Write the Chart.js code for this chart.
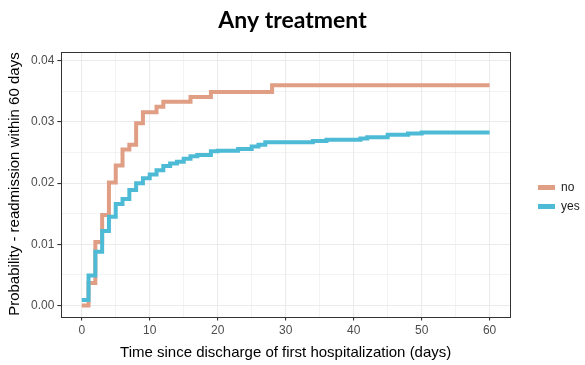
<!DOCTYPE html>
<html>
<head>
<meta charset="utf-8">
<script src="https://cdn.jsdelivr.net/npm/chart.js@4"></script>
<style>
  html, body { margin: 0; padding: 0; background: #fff; }
  #wrap { width: 585px; height: 365px; }
</style>
</head>
<body>
<div id="wrap"><canvas id="kmChart"></canvas></div>
<script>
// ========== data ==========
const seriesNames = ['no', 'yes'];

// "no" step curve: day of jump, cumulative probability after the jump
const noDays = [0, 1, 2, 3, 4, 5, 6, 7, 8, 9, 11, 12, 16, 19, 28, 60];
const noProb = [0, 0.0037, 0.0104, 0.0148, 0.0201, 0.0229, 0.0255, 0.0263, 0.0298, 0.0316,
                0.0325, 0.0333, 0.0341, 0.0349, 0.0360, 0.0360];

// "yes" step curve
const yesDays = [0, 1, 2, 3, 4, 5, 6, 7, 8, 9, 10, 11, 12, 13, 14, 15, 16, 17, 19, 20,
                 23, 25, 26, 27, 34, 36, 41, 42, 45, 48, 50, 60];
const yesProb = [0.0009, 0.0049, 0.0088, 0.0122, 0.0145, 0.0166, 0.0174, 0.0189, 0.0200, 0.0208,
                 0.0214, 0.0221, 0.0228, 0.0232, 0.0235, 0.0240, 0.0244, 0.0246, 0.0252, 0.0253,
                 0.0256, 0.0260, 0.0263, 0.0267, 0.0269, 0.0271, 0.0273, 0.0275, 0.0279, 0.0281,
                 0.0283, 0.0283];

const xTicks = [0, 5, 10, 15, 20, 25, 30, 35, 40, 45, 50, 55, 60];
const yTicks = [0, 0.005, 0.01, 0.015, 0.02, 0.025, 0.03, 0.035, 0.04];

const colors = ['#E09F85', '#4DBBD5'];

function toPoints(xs, ys) {
    return xs.map((x, i) => ({ x: x, y: ys[i] }));
}

// 패널 테두리 (theme_bw)
const panelBorder = {
    id: 'panelBorder',
    afterDraw(chart) {
        const a = chart.chartArea;
        const ctx = chart.ctx;
        ctx.save();
        ctx.strokeStyle = '#333333';
        ctx.lineWidth = 1;
        ctx.strokeRect(Math.round(a.left) + 0.5, Math.round(a.top) + 0.5,
                       Math.round(a.right - a.left), Math.round(a.bottom - a.top));
        ctx.restore();
    }
};

// 범례 폭 고정 + 오른쪽으로 이동 (ggplot 범례 위치)
const legendPlace = {
    id: 'legendPlace',
    beforeLayout(chart) {
        const lg = chart.legend;
        if (lg && !lg._patched) {
            const fit = lg.fit;
            lg.fit = function () {
                fit.call(this);
                this.width = 75;
            };
            lg._patched = true;
        }
    },
    afterLayout(chart) {
        const lg = chart.legend;
        lg.left += 21;
        lg.right += 21;
        lg.top += 14;
        lg.bottom += 14;
    }
};

const isMajorX = v => v % 10 === 0;
const isMajorY = v => Math.abs(Math.round(v * 100) - v * 100) < 1e-6;

const ctx = document.getElementById('kmChart').getContext('2d');
const chart = new Chart(ctx, {
    type: 'line',
    data: {
        datasets: [
            {
                label: seriesNames[0],
                data: toPoints(noDays, noProb),
                borderColor: colors[0],
                backgroundColor: colors[0],
                borderWidth: 4,
                stepped: 'before',
                pointRadius: 0,
                order: 1
            },
            {
                label: seriesNames[1],
                data: toPoints(yesDays, yesProb),
                borderColor: colors[1],
                backgroundColor: colors[1],
                borderWidth: 4,
                stepped: 'before',
                pointRadius: 0,
                order: 0
            }
        ]
    },
    options: {
        responsive: true,
        maintainAspectRatio: false,
        animation: false,
        layout: { padding: { left: 0, right: 0, top: 4, bottom: 3 } },
        plugins: {
            title: {
                display: true,
                text: 'Any treatment',
                color: '#000',
                font: { family: 'Lato', size: 23, weight: 'bold' },
                padding: { top: 3, bottom: 17 }
            },
            legend: {
                position: 'right',
                align: 'center',
                labels: {
                    boxWidth: 17,
                    boxHeight: 5,
                    color: '#1a1a1a',
                    padding: 7,
                    font: { family: 'Liberation Sans', size: 12 },
                    sort: (a, b) => a.datasetIndex - b.datasetIndex,
                    generateLabels: c => Chart.defaults.plugins.legend.labels.generateLabels(c)
                        .map(l => Object.assign(l, { lineWidth: 0 }))
                }
            },
            tooltip: { enabled: false }
        },
        scales: {
            x: {
                type: 'linear',
                min: -3,
                max: 63,
                afterBuildTicks: axis => { axis.ticks = xTicks.map(v => ({ value: v })); },
                ticks: {
                    autoSkip: false,
                    maxRotation: 0,
                    color: '#4d4d4d',
                    font: { family: 'Liberation Sans', size: 12 },
                    padding: 3,
                    callback: v => isMajorX(v) ? String(v) : ''
                },
                grid: {
                    color: '#ebebeb',
                    lineWidth: c => isMajorX(c.tick.value) ? 1.1 : 0.6,
                    tickColor: c => isMajorX(c.tick.value) ? '#333333' : 'rgba(0,0,0,0)',
                    tickLength: 4
                },
                border: { display: false },
                title: {
                    display: true,
                    text: 'Time since discharge of first hospitalization (days)',
                    color: '#000',
                    font: { family: 'Liberation Sans', size: 15 },
                    padding: { top: 3, bottom: 0 }
                }
            },
            y: {
                type: 'linear',
                min: -0.0018,
                max: 0.0415,
                afterBuildTicks: axis => { axis.ticks = yTicks.map(v => ({ value: v })); },
                ticks: {
                    autoSkip: false,
                    color: '#4d4d4d',
                    font: { family: 'Liberation Sans', size: 12 },
                    padding: 3,
                    callback: v => isMajorY(v) ? v.toFixed(2) : ''
                },
                grid: {
                    color: '#ebebeb',
                    lineWidth: c => isMajorY(c.tick.value) ? 1.1 : 0.6,
                    tickColor: c => isMajorY(c.tick.value) ? '#333333' : 'rgba(0,0,0,0)',
                    tickLength: 4
                },
                border: { display: false },
                title: {
                    display: true,
                    text: 'Probability - readmission within 60 days',
                    color: '#000',
                    font: { family: 'Liberation Sans', size: 15 },
                    padding: { top: 6, bottom: 4 }
                }
            }
        }
    },
    plugins: [panelBorder, legendPlace]
});
</script>
</body>
</html>
